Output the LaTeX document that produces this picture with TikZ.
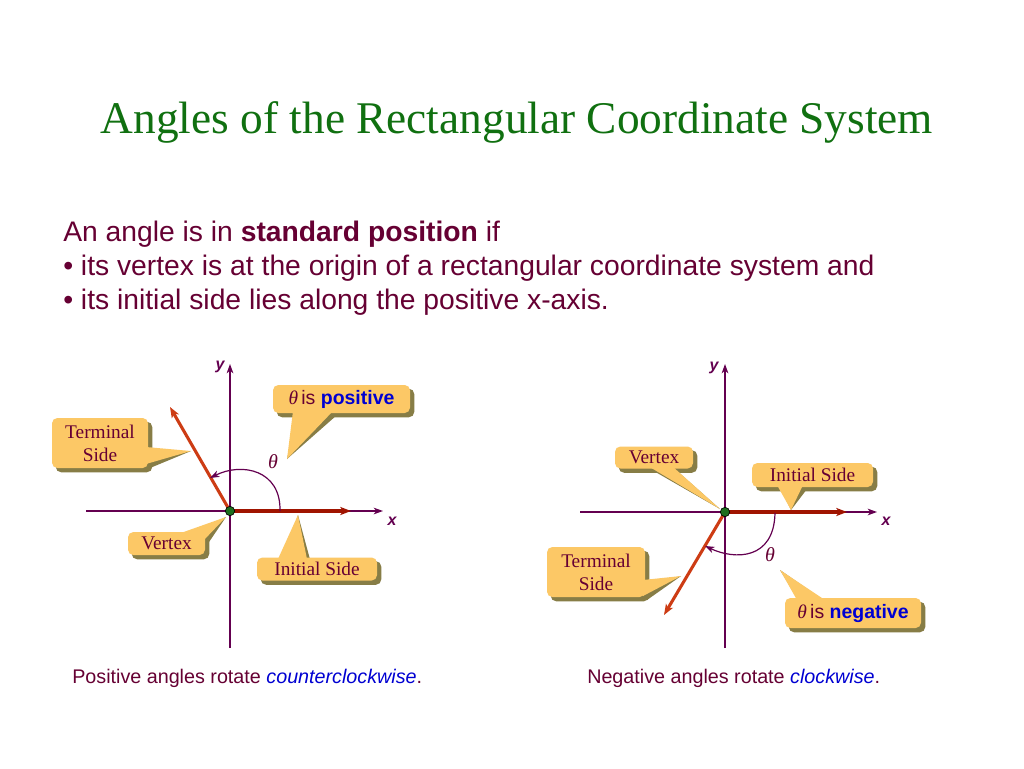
\documentclass[tikz,border=0pt]{standalone}
\usepackage{fontspec}
\setmainfont{Liberation Serif}
\setsansfont{Liberation Sans}
\usetikzlibrary{arrows.meta}
\pgfdeclarelayer{back}\pgfdeclarelayer{bg}\pgfsetlayers{back,bg,main}
\newdimen\pxu \pxu=0.75pt
\definecolor{titlec}{RGB}{16,112,16}
\definecolor{bodyc}{RGB}{102,0,51}
\definecolor{axisc}{RGB}{100,0,80}
\definecolor{initc}{RGB}{160,20,0}
\definecolor{termc}{RGB}{205,60,20}
\definecolor{dotc}{RGB}{30,110,30}
\definecolor{callfill}{RGB}{252,200,102}
\definecolor{shadowc}{RGB}{135,125,70}
\definecolor{bluec}{RGB}{0,0,210}
\newcommand\mkptr[3]{%
  \begin{pgfonlayer}{bg}\fill[shadowc,shift={(4,4)}] #1 -- #2 -- #3 -- cycle;\end{pgfonlayer}
  \fill[callfill] #1 -- #2 -- #3 -- cycle;}
\newcommand\boxshadow[1]{%
  \begin{pgfonlayer}{bg}\fill[shadowc,rounded corners=4pt] ([shift={(4,4)}]#1.south west) rectangle ([shift={(4,4)}]#1.north east);\end{pgfonlayer}}
\begin{document}
\begin{tikzpicture}[x=0.75pt,y=-0.75pt,
  axis/.style={draw=axisc, line width=1.1pt, -{Stealth[length=7pt,width=5pt,inset=2pt]}},
  initside/.style={draw=initc, line width=2.3pt, -{Stealth[length=8pt,width=6pt,inset=2pt]}},
  termside/.style={draw=termc, line width=2.3pt, -{Stealth[length=8pt,width=6pt,inset=2pt]}},
  anglearc/.style={draw=axisc, line width=0.9pt, -{Stealth[length=7pt,width=5pt,inset=2pt]}},
  axlabel/.style={font=\sffamily\bfseries\itshape\fontsize{12}{14}\selectfont, text=axisc, inner sep=0pt},
  thetalabel/.style={font=\itshape\fontsize{15}{18}\selectfont, text=bodyc, inner sep=0pt},
  callbox/.style={fill=callfill, rounded corners=4pt, inner sep=0pt, align=center, text=bodyc,
    font=\fontsize{14.5}{17.25}\selectfont},
  callsans/.style={callbox, font=\sffamily\fontsize{14.6}{17.25}\selectfont},
  bodytext/.style={anchor=base west, inner sep=0pt, text=bodyc, font=\sffamily\fontsize{21.2}{25.5}\selectfont},
  captext/.style={anchor=base west, inner sep=0pt, text=bodyc, font=\sffamily\fontsize{14.8}{16}\selectfont},
  vdot/.style={circle, fill=dotc, draw=black, line width=0.5pt, minimum size=7pt, inner sep=0pt}
]
\begin{pgfonlayer}{back}
\fill[white] (0,0) rectangle (1024,768);
\end{pgfonlayer}
\useasboundingbox (0,0) rectangle (1024,768);

% title and body
\node[anchor=base, inner sep=0pt, text=titlec, font=\fontsize{34}{40}\selectfont] (title) at (517,133) {Angles of the Rectangular Coordinate System};
\node[bodytext] (b1) at (63,241) {An angle is in \textbf{standard position} if};
\node[bodytext] (b2) at (63,275) {• its vertex is at the origin of a rectangular coordinate system and};
\node[bodytext] (b3) at (63,309) {• its initial side lies along the positive x-axis.};

% ---------- left diagram ----------
\coordinate (oL) at (230,511);
\coordinate (xLa) at (86,511);  \coordinate (xLb) at (383,511);
\coordinate (yLa) at (230,648); \coordinate (yLb) at (230,364);
\coordinate (iLe) at (351,511);
\coordinate (tLe) at (170,407);
\coordinate (aLs) at (280,511); \coordinate (aLe) at (210,478);
\draw[axis] (xLa) -- (xLb);
\draw[axis] (yLa) -- (yLb);
\node[axlabel] (xL) at (392,521) {x};
\node[axlabel] (yL) at (220,367) {y};
\draw[initside] (oL) -- (iLe);
\draw[termside] (oL) -- (tLe);
\draw[anglearc] (aLs) .. controls (281,470) and (242,462) .. (aLe);
\node[thetalabel] (thL) at (273,462) {θ};
\node[vdot] (vL) at (oL) {};

% callouts left
\node[callbox, minimum width=96\pxu, minimum height=50\pxu] (termL) at (100,443) {Terminal\\Side};
\boxshadow{termL}
\coordinate (termLtip) at (191,451);
\mkptr{(146,447)}{(termLtip)}{(146,464)}

\node[callsans, minimum width=137\pxu, minimum height=28\pxu] (posL) at (341.5,399) {{\rmfamily\itshape θ}\,is \textcolor{bluec}{\textbf{positive}}};
\boxshadow{posL}
\coordinate (posLtip) at (287,459);
\mkptr{(293,411)}{(posLtip)}{(333,411)}

\node[callbox, minimum width=77\pxu, minimum height=23\pxu] (vertL) at (166.5,543.5) {Vertex};
\boxshadow{vertL}
\coordinate (vertLtip) at (226,517);
\mkptr{(178,534)}{(vertLtip)}{(203,541)}

\node[callbox, minimum width=120\pxu, minimum height=23\pxu] (initL) at (317,569) {Initial Side};
\boxshadow{initL}
\coordinate (initLtip) at (298,515);
\mkptr{(278,559)}{(initLtip)}{(307,559)}

% ---------- right diagram ----------
\coordinate (oR) at (725,512);
\coordinate (xRa) at (580,512); \coordinate (xRb) at (877,512);
\coordinate (yRa) at (725,648); \coordinate (yRb) at (725,364);
\coordinate (iRe) at (847,512);
\coordinate (tRe) at (664,615);
\coordinate (aRs) at (775,513); \coordinate (aRe) at (705,546);
\draw[axis] (xRa) -- (xRb);
\draw[axis] (yRa) -- (yRb);
\node[axlabel] (xR) at (886,521) {x};
\node[axlabel] (yR) at (714,368) {y};
\draw[initside] (oR) -- (iRe);
\draw[termside] (oR) -- (tRe);
\draw[anglearc] (aRs) .. controls (774,560) and (735,560) .. (aRe);
\node[thetalabel] (thR) at (770,555) {θ};
\node[vdot] (vR) at (oR) {};

% callouts right
\node[callbox, minimum width=78\pxu, minimum height=22\pxu] (vertR) at (654,457.5) {Vertex};
\boxshadow{vertR}
\coordinate (vertRtip) at (720,509);
\mkptr{(648,466)}{(vertRtip)}{(672,466)}

\node[callbox, minimum width=121\pxu, minimum height=24\pxu] (initR) at (812.5,475) {Initial Side};
\boxshadow{initR}
\coordinate (initRtip) at (791,510);
\mkptr{(777,485)}{(initRtip)}{(803,485)}

\node[callbox, minimum width=98\pxu, minimum height=50\pxu] (termR) at (596,572) {Terminal\\Side};
\boxshadow{termR}
\coordinate (termRtip) at (681,576);
\mkptr{(643,580)}{(termRtip)}{(643,596)}

\node[callsans, minimum width=136\pxu, minimum height=30\pxu] (negR) at (853,613) {{\rmfamily\itshape θ}\,is \textcolor{bluec}{\textbf{negative}}};
\boxshadow{negR}
\coordinate (negRtip) at (780,570);
\mkptr{(797,600)}{(negRtip)}{(825,600)}

% captions
\node[captext] (capL) at (72,683) {Positive angles rotate \textcolor{bluec}{\itshape counterclockwise}.};
\node[captext] (capR) at (587,683) {Negative angles rotate \textcolor{bluec}{\itshape clockwise}.};
\end{tikzpicture}
\end{document}
